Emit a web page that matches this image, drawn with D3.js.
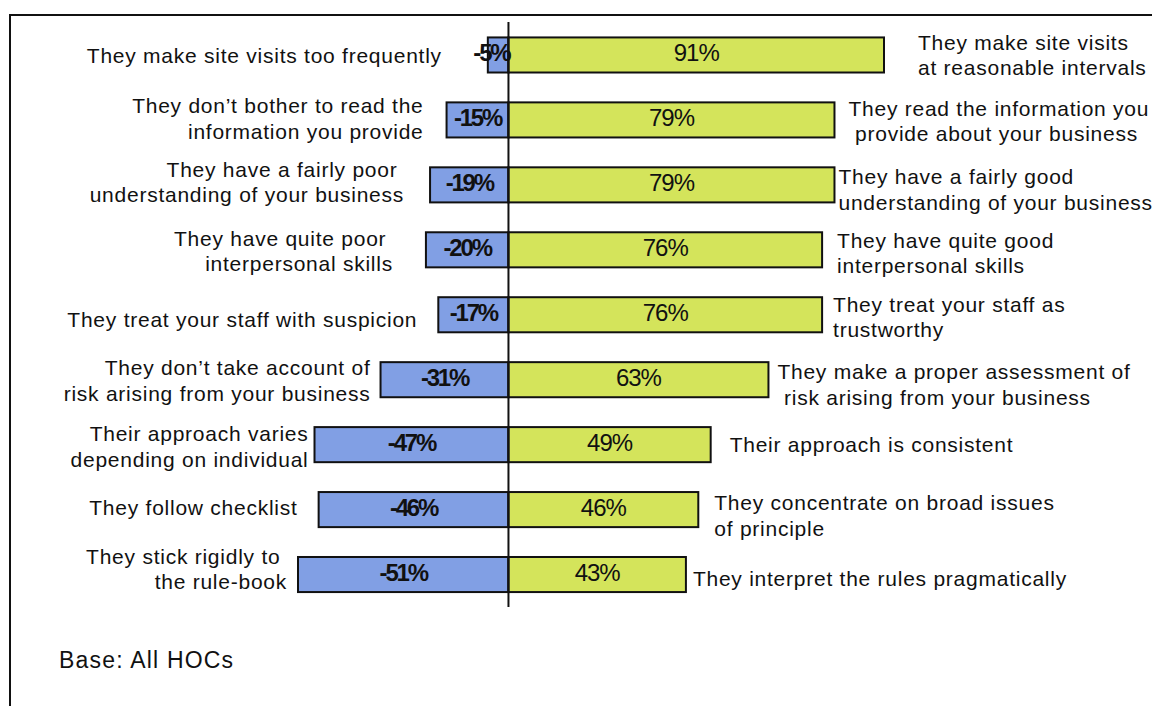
<!DOCTYPE html>
<html>
<head>
<meta charset="utf-8">
<script src="https://cdn.jsdelivr.net/npm/d3@7"></script>
<style>
  html, body { margin: 0; padding: 0; background: #fff; }
  svg { display: block; }
  text { font-family: "Liberation Sans", Arial, sans-serif; }
</style>
</head>
<body>
<svg id="chart" width="1152" height="706"></svg>
<script>
// Survey statements: negative view (left) vs positive view (right)
const negativeLabels = [
  ["They make site visits too frequently"],
  ["They don\u2019t bother to read the", "information you provide"],
  ["They have a fairly poor ", "understanding of your business"],
  ["They have quite poor ", "interpersonal skills"],
  ["They treat your staff with suspicion"],
  ["They don\u2019t take account of", "risk arising from your business"],
  ["Their approach varies", "depending on individual"],
  ["They follow checklist"],
  ["They stick rigidly to ", "the rule-book"]
];
const positiveLabels = [
  ["They make site visits", "at reasonable intervals"],
  ["They read the information you", " provide about your business"],
  ["They have a fairly good", "understanding of your business"],
  ["They have quite good", "interpersonal skills"],
  ["They treat your staff as", "trustworthy"],
  ["They make a proper assessment of", " risk arising from your business"],
  ["Their approach is consistent"],
  ["They concentrate on broad issues", "of principle"],
  ["They interpret the rules pragmatically"]
];
const negativeValues = [-5, -15, -19, -20, -17, -31, -47, -46, -51];
const positiveValues = [91, 79, 79, 76, 76, 63, 49, 46, 43];
const baseNote = "Base: All HOCs";

// Label placement: horizontal gap from bar end, vertical nudge from row centre
const leftGap = [46, 23, 26, 33, 21, 10, 6, 21, 11];
const rightGap = [34, 14, 4, 15, 11, 9, 19, 16, 7];
const leftDy = [1, -1.5, -2.5, 1.5, 4.5, 1, 2, -2, -5.5];
const rightDy = [0, 1, 5, 3.5, 2.5, 5, 0.5, 6, 4];

const svg = d3.select("#chart");
const rows = d3.range(negativeValues.length);

const x = d3.scaleLinear().domain([-51, 91]).range([298, 884]);
const y = d3.scaleBand().domain(rows).range([22.5, 607]).paddingInner(0.46).paddingOuter(0.23);

const fontSize = 21;
const valueSize = 24;
const lineH = 25.5;
const blue = "#819fe4";
const green = "#d4e45b";

// outer frame
svg.append("path")
  .attr("d", "M10,720 L10,15 L1160,15")
  .attr("fill", "none").attr("stroke", "#111").attr("stroke-width", 2);

const g = svg.append("g");

// negative bars
g.selectAll(".neg").data(rows).join("rect")
  .attr("class", "neg")
  .attr("x", i => x(negativeValues[i]))
  .attr("y", i => y(i))
  .attr("width", i => x(0) - x(negativeValues[i]))
  .attr("height", y.bandwidth())
  .attr("fill", blue).attr("stroke", "#111").attr("stroke-width", 2);

// positive bars
g.selectAll(".pos").data(rows).join("rect")
  .attr("class", "pos")
  .attr("x", x(0))
  .attr("y", i => y(i))
  .attr("width", i => x(positiveValues[i]) - x(0))
  .attr("height", y.bandwidth())
  .attr("fill", green).attr("stroke", "#111").attr("stroke-width", 2);

// centre axis
g.append("line")
  .attr("x1", x(0)).attr("x2", x(0))
  .attr("y1", 22).attr("y2", 607)
  .attr("stroke", "#111").attr("stroke-width", 2);

const mid = i => y(i) + y.bandwidth() / 2;

// value labels (a label wider than its bar is pinned against the axis)
g.selectAll(".negv").data(rows).join("text")
  .attr("class", "negv")
  .attr("x", i => (x(negativeValues[i]) + x(0)) / 2)
  .attr("y", i => mid(i) - 2)
  .attr("dy", "0.35em")
  .attr("text-anchor", "middle")
  .attr("font-size", valueSize).attr("font-weight", "bold")
  .attr("letter-spacing", -2.2)
  .attr("fill", "#111")
  .text(i => negativeValues[i] + "%")
  .each(function(i) {
    const w = this.getComputedTextLength();
    if (w > x(0) - x(negativeValues[i])) {
      d3.select(this).attr("text-anchor", "end").attr("x", x(0) + 1);
    }
  });

g.selectAll(".posv").data(rows).join("text")
  .attr("class", "posv")
  .attr("x", i => (x(positiveValues[i]) + x(0)) / 2)
  .attr("y", i => mid(i) - 2)
  .attr("dy", "0.35em")
  .attr("text-anchor", "middle")
  .attr("font-size", valueSize)
  .attr("letter-spacing", -1)
  .attr("fill", "#111")
  .text(i => positiveValues[i] + "%");

function multiLine(sel, lines, ax, cy, anchor) {
  const n = lines.length;
  const t = sel.append("text")
    .attr("xml:space", "preserve")
    .style("white-space", "pre")
    .attr("text-anchor", anchor)
    .attr("font-size", fontSize)
    .attr("letter-spacing", 0.75)
    .attr("fill", "#111");
  lines.forEach((ln, k) => {
    t.append("tspan")
      .attr("x", ax)
      .attr("y", cy + (k - (n - 1) / 2) * lineH)
      .attr("dy", "0.35em")
      .text(ln);
  });
}

rows.forEach(i => {
  multiLine(g, negativeLabels[i], x(negativeValues[i]) - leftGap[i], mid(i) + leftDy[i], "end");
  multiLine(g, positiveLabels[i], x(positiveValues[i]) + rightGap[i], mid(i) + rightDy[i], "start");
});

svg.append("text")
  .attr("x", 59).attr("y", 668)
  .attr("font-size", 23)
  .attr("letter-spacing", 1.2)
  .attr("fill", "#111")
  .text(baseNote);
</script>
</body>
</html>
